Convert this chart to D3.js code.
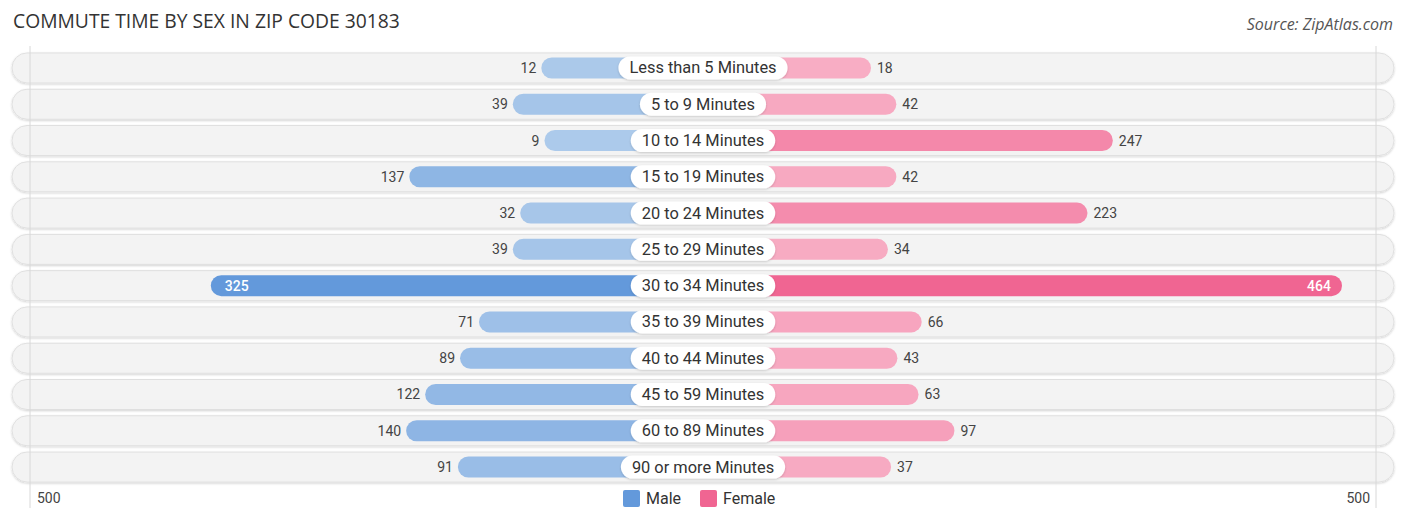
<!DOCTYPE html>
<html>
<head>
<meta charset="utf-8">
<script src="https://cdn.jsdelivr.net/npm/d3@7"></script>
<style>
  body { margin: 0; background: #fff; }
  svg { display: block; }
</style>
</head>
<body>
<svg id="chart" width="1406" height="523"></svg>
<script>
// data
const categories = [
  "Less than 5 Minutes", "5 to 9 Minutes", "10 to 14 Minutes", "15 to 19 Minutes",
  "20 to 24 Minutes", "25 to 29 Minutes", "30 to 34 Minutes", "35 to 39 Minutes",
  "40 to 44 Minutes", "45 to 59 Minutes", "60 to 89 Minutes", "90 or more Minutes"
];
const male = [12, 39, 9, 137, 32, 39, 325, 71, 89, 122, 140, 91];
const female = [18, 42, 247, 42, 223, 34, 464, 66, 43, 63, 97, 37];
const axisMax = 500;
const axisLabels = ["500", "500"];

const svg = d3.select("#chart");
const W = 1406;
const cx = 703;
const offset = 149;   // bars start under the category pill

const x = d3.scaleLinear().domain([0, axisMax]).range([0, 528]);
const y = d3.scaleBand().domain(categories).range([50, 485]).paddingInner(0.17).paddingOuter(0.08);

const maxMale = d3.max(male);
const maxFemale = d3.max(female);
const maleColor = d3.scaleLinear().domain([0, maxMale]).range(["#aecbeb", "#6399db"]);
const femaleColor = d3.scaleLinear().domain([0, maxFemale]).range(["#f8b0c6", "#f06592"]);

const defs = svg.append("defs");
const sh = defs.append("filter").attr("id", "shadow").attr("x", "-5%").attr("y", "-30%").attr("width", "110%").attr("height", "160%");
sh.append("feDropShadow").attr("dx", 0).attr("dy", 1).attr("stdDeviation", 1.2).attr("flood-color", "#000").attr("flood-opacity", 0.18);

// title + source
svg.append("text")
  .attr("x", 13).attr("y", 28)
  .attr("font-family", "'Open Sans', sans-serif")
  .attr("font-size", 19.3)
  .attr("fill", "#333")
  .text("COMMUTE TIME BY SEX IN ZIP CODE 30183");

svg.append("text")
  .attr("x", 1393).attr("y", 30)
  .attr("text-anchor", "end")
  .attr("font-family", "'Open Sans', sans-serif")
  .attr("font-style", "italic")
  .attr("font-size", 16)
  .attr("fill", "#555")
  .text("Source: ZipAtlas.com");

// row backgrounds
const rowH = 30;
svg.append("g").selectAll("rect")
  .data(categories)
  .join("rect")
  .attr("x", 12)
  .attr("y", d => y(d) + y.bandwidth() / 2 - rowH / 2)
  .attr("width", W - 24)
  .attr("height", rowH)
  .attr("rx", rowH / 2)
  .attr("fill", "#f3f3f3")
  .attr("stroke", "#e0e0e0")
  .attr("stroke-width", 1)
  .attr("filter", "url(#shadow)");

// gridlines at the axis max
[cx - offset - x(axisMax) + 4, cx + offset + x(axisMax) - 4].forEach(gx => {
  svg.append("line")
    .attr("x1", gx).attr("x2", gx)
    .attr("y1", 46).attr("y2", 508)
    .attr("stroke", "#d8d8d8")
    .attr("stroke-width", 1);
});

const barH = 21;
const rows = svg.append("g").selectAll("g")
  .data(categories)
  .join("g")
  .attr("transform", d => `translate(0,${y(d) + y.bandwidth() / 2})`);

// male bars
rows.append("rect")
  .attr("x", (d, i) => cx - offset - x(male[i]))
  .attr("y", -barH / 2)
  .attr("width", (d, i) => offset + x(male[i]))
  .attr("height", barH)
  .attr("rx", barH / 2)
  .attr("fill", (d, i) => maleColor(male[i]));

// female bars
rows.append("rect")
  .attr("x", cx)
  .attr("y", -barH / 2)
  .attr("width", (d, i) => offset + x(female[i]))
  .attr("height", barH)
  .attr("rx", barH / 2)
  .attr("fill", (d, i) => femaleColor(female[i]));

// category pills
rows.each(function(d) {
  const g = d3.select(this);
  const t = g.append("text")
    .attr("x", cx).attr("y", 5.5)
    .attr("text-anchor", "middle")
    .attr("font-family", "Roboto, sans-serif")
    .attr("font-size", 16.4)
    .attr("fill", "#333")
    .text(d);
  const w = t.node().getComputedTextLength() + 22;
  g.insert("rect", "text")
    .attr("x", cx - w / 2)
    .attr("y", -11.5)
    .attr("width", w)
    .attr("height", 23)
    .attr("rx", 11.5)
    .attr("fill", "#fff")
    .attr("filter", "url(#shadow)");
});

// value labels
const insideM = v => v === maxMale;
rows.append("text")
  .attr("x", (d, i) => insideM(male[i]) ? cx - offset - x(male[i]) + 14 : cx - offset - x(male[i]) - 5)
  .attr("y", 5)
  .attr("text-anchor", (d, i) => insideM(male[i]) ? "start" : "end")
  .attr("font-family", "Roboto, sans-serif")
  .attr("font-size", 14)
  .attr("font-weight", (d, i) => insideM(male[i]) ? 500 : 400)
  .attr("fill", (d, i) => insideM(male[i]) ? "#fff" : "#444")
  .text((d, i) => male[i]);

const insideF = v => v === maxFemale;
rows.append("text")
  .attr("x", (d, i) => insideF(female[i]) ? cx + offset + x(female[i]) - 11 : cx + offset + x(female[i]) + 6)
  .attr("y", 5)
  .attr("text-anchor", (d, i) => insideF(female[i]) ? "end" : "start")
  .attr("font-family", "Roboto, sans-serif")
  .attr("font-size", 14)
  .attr("font-weight", (d, i) => insideF(female[i]) ? 500 : 400)
  .attr("fill", (d, i) => insideF(female[i]) ? "#fff" : "#444")
  .text((d, i) => female[i]);

// axis labels
svg.append("text")
  .attr("x", 37).attr("y", 503)
  .attr("font-family", "Roboto, sans-serif").attr("font-size", 14).attr("fill", "#444")
  .text(axisLabels[0]);
svg.append("text")
  .attr("x", 1370).attr("y", 503)
  .attr("text-anchor", "end")
  .attr("font-family", "Roboto, sans-serif").attr("font-size", 14).attr("fill", "#444")
  .text(axisLabels[1]);

// legend
const legend = [
  { name: "Male", color: "#6399db", x: 623 },
  { name: "Female", color: "#f06592", x: 700 }
];
const lg = svg.append("g").selectAll("g").data(legend).join("g")
  .attr("transform", d => `translate(${d.x},490)`);
lg.append("rect").attr("width", 17).attr("height", 17).attr("rx", 2).attr("fill", d => d.color);
lg.append("text")
  .attr("x", 23).attr("y", 14)
  .attr("font-family", "Roboto, sans-serif").attr("font-size", 16).attr("fill", "#333")
  .text(d => d.name);
</script>
</body>
</html>
